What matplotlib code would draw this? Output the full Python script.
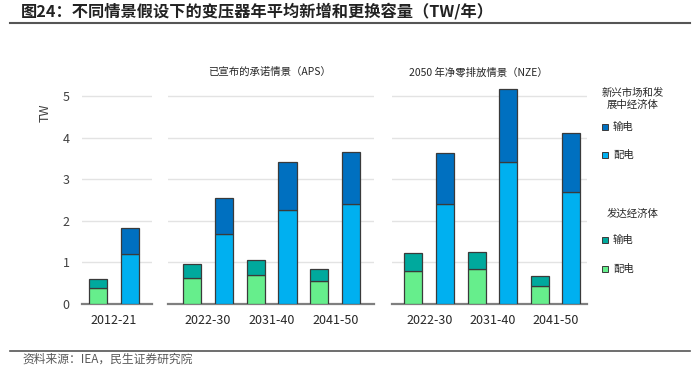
import matplotlib
matplotlib.use("Agg")
from matplotlib import pyplot as plt
import matplotlib.patches as mpatches
import numpy as np

plt.rcParams['font.family'] = ['Noto Sans CJK SC', 'DejaVu Sans']

# data (TW per year)
hist_label = ['2012-21']
periods = ['2022-30', '2031-40', '2041-50']

hist_adv_dist = [0.39]
hist_adv_trans = [0.21]
hist_emde_dist = [1.21]
hist_emde_trans = [0.61]

aps_adv_dist = [0.62, 0.69, 0.56]
aps_adv_trans = [0.33, 0.36, 0.28]
aps_emde_dist = [1.68, 2.25, 2.41]
aps_emde_trans = [0.87, 1.16, 1.25]

nze_adv_dist = [0.80, 0.83, 0.44]
nze_adv_trans = [0.42, 0.43, 0.23]
nze_emde_dist = [2.40, 3.42, 2.70]
nze_emde_trans = [1.24, 1.76, 1.40]

c_emde_trans = '#0070C0'
c_emde_dist = '#00B0F0'
c_adv_trans = '#00A99D'
c_adv_dist = '#66EE8C'
edge = '#3a3a3a'

W, H = 693, 366
fig = plt.figure(figsize=(W / 100, H / 100), dpi=100)

y0_px = 304
unit = 41.6
ytop = 5.35


def px_rect(x0, x1):
    h = ytop * unit
    return [x0 / W, (H - y0_px) / H, (x1 - x0) / W, h / H]


def draw_panel(ax, labels, adv_d, adv_t, emde_d, emde_t, xlim, show_y=False):
    x = np.arange(len(labels))
    w = 0.285
    ax.bar(x - 0.25, adv_d, w, color=c_adv_dist, edgecolor=edge, linewidth=0.9, zorder=3)
    ax.bar(x - 0.25, adv_t, w, bottom=adv_d, color=c_adv_trans, edgecolor=edge, linewidth=0.9, zorder=3)
    ax.bar(x + 0.25, emde_d, w, color=c_emde_dist, edgecolor=edge, linewidth=0.9, zorder=3)
    ax.bar(x + 0.25, emde_t, w, bottom=emde_d, color=c_emde_trans, edgecolor=edge, linewidth=0.9, zorder=3)
    ax.set_xlim(*xlim)
    ax.set_ylim(0, ytop)
    ax.set_yticks(range(0, 6))
    ax.yaxis.grid(True, color='#E3E3E3', linewidth=1.0, zorder=0)
    ax.set_xticks(x)
    ax.set_xticklabels(labels, fontsize=9, color='#262626')
    ax.tick_params(axis='both', length=0)
    ax.tick_params(axis='x', pad=7)
    ax.tick_params(axis='y', pad=9, labelsize=9, labelcolor='#404040')
    for s in ['top', 'right', 'left']:
        ax.spines[s].set_visible(False)
    ax.spines['bottom'].set_color('#7F7F7F')
    ax.spines['bottom'].set_linewidth(1.6)
    if not show_y:
        ax.set_yticklabels([])


ax1 = fig.add_axes(px_rect(82, 152))
draw_panel(ax1, hist_label, hist_adv_dist, hist_adv_trans, hist_emde_dist, hist_emde_trans,
           (-0.5, 0.6), show_y=True)

ax2 = fig.add_axes(px_rect(168, 374))
draw_panel(ax2, periods, aps_adv_dist, aps_adv_trans, aps_emde_dist, aps_emde_trans, (-0.63, 2.61))

ax3 = fig.add_axes(px_rect(392, 587))
draw_panel(ax3, periods, nze_adv_dist, nze_adv_trans, nze_emde_dist, nze_emde_trans, (-0.59, 2.5))


def fx(px):
    return px / W


def fy(py):
    return 1 - py / H


# y label
fig.text(fx(45), fy(113), 'TW', rotation=90, fontsize=9, color='#404040', ha='center', va='center')

# panel titles
fig.text(fx(269), fy(72), '已宣布的承诺情景（APS）', fontsize=7.5, color='#262626', ha='center', va='center')
fig.text(fx(478), fy(72), '2050 年净零排放情景（NZE）', fontsize=7.5, color='#262626', ha='center', va='center')

# legend, drawn by hand
fig.text(fx(633), fy(99), '新兴市场和发\n展中经济体', fontsize=7.5, color='#262626',
         ha='center', va='center', linespacing=1.2)
fig.text(fx(633), fy(214), '发达经济体', fontsize=7.5, color='#262626', ha='center', va='center')
leg_items = [(127, '输电', c_emde_trans), (155, '配电', c_emde_dist),
             (240, '输电', c_adv_trans), (269, '配电', c_adv_dist)]
for py, txt, col in leg_items:
    sq = 6.5
    fig.add_artist(mpatches.Rectangle((fx(601.5), fy(py + sq / 2)), sq / W, sq / H, transform=fig.transFigure,
                                      facecolor=col, edgecolor=edge, linewidth=0.7))
    fig.text(fx(613), fy(py), txt, fontsize=7.5, color='#262626', ha='left', va='center')

# header and footer
fig.text(fx(21), fy(11.5), '图24：不同情景假设下的变压器年平均新增和更换容量（TW/年）', fontsize=11.7,
         fontweight='bold', color='#222222', ha='left', va='center')
fig.add_artist(plt.Line2D([fx(10), fx(690)], [fy(22.5), fy(22.5)], transform=fig.transFigure,
                          color='#555555', linewidth=1.5))
fig.add_artist(plt.Line2D([fx(10), fx(690)], [fy(351), fy(351)], transform=fig.transFigure,
                          color='#555555', linewidth=1.2))
fig.text(fx(22), fy(359), '资料来源：IEA，民生证券研究院', fontsize=8.5, color='#595959', ha='left', va='center')

fig.savefig('out.png', dpi=100)
